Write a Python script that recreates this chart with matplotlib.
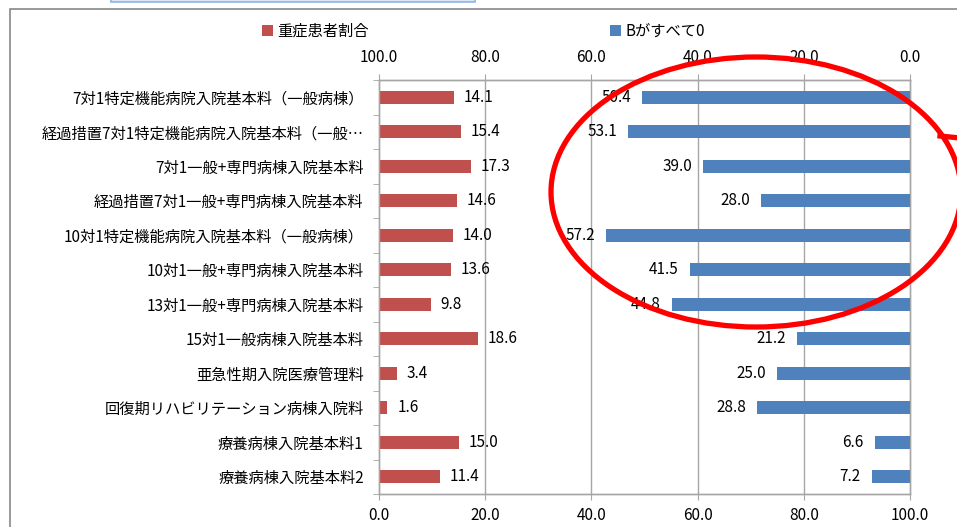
import numpy as np
import matplotlib
matplotlib.use("Agg")
import matplotlib.pyplot as plt
from matplotlib.patches import Rectangle, Ellipse
from matplotlib.lines import Line2D

plt.rcParams['font.family'] = ['Noto Sans CJK JP', 'DejaVu Sans']

categories = [
    "7対1特定機能病院入院基本料（一般病棟）",
    "経過措置7対1特定機能病院入院基本料（一般…",
    "7対1一般+専門病棟入院基本料",
    "経過措置7対1一般+専門病棟入院基本料",
    "10対1特定機能病院入院基本料（一般病棟）",
    "10対1一般+専門病棟入院基本料",
    "13対1一般+専門病棟入院基本料",
    "15対1一般病棟入院基本料",
    "亜急性期入院医療管理料",
    "回復期リハビリテーション病棟入院料",
    "療養病棟入院基本料1",
    "療養病棟入院基本料2",
]
severe = [14.1, 15.4, 17.3, 14.6, 14.0, 13.6, 9.8, 18.6, 3.4, 1.6, 15.0, 11.4]
b_zero = [50.4, 53.1, 39.0, 28.0, 57.2, 41.5, 44.8, 21.2, 25.0, 28.8, 6.6, 7.2]
series_names = ["重症患者割合", "Bがすべて0"]

red = "#C0504D"
blue = "#4F81BD"
grey = "#A6A6A6"
fs = 11

W, H = 957, 527
fig = plt.figure(figsize=(W / 100, H / 100), dpi=100)
ax = fig.add_axes([379 / W, 1 - 494 / H, (910 - 379) / W, (494 - 80) / H])
ax2 = ax.twiny()

y = np.arange(len(categories))
h = 0.39
b1 = ax.barh(y, severe, height=h, color=red, zorder=3, label=series_names[0])
b2 = ax2.barh(y, b_zero, height=h, color=blue, zorder=3, label=series_names[1])

ax.set_xlim(0, 100)
ax2.set_xlim(100, 0)
ax.set_ylim(len(categories) - 0.5, -0.5)

ticks = [0, 20, 40, 60, 80, 100]
ax.set_xticks(ticks)
ax.set_xticklabels(["%.1f" % t for t in ticks], fontsize=fs)
ax2.set_xticks(ticks)
ax2.set_xticklabels(["%.1f" % t for t in ticks], fontsize=fs)
ax.tick_params(axis='x', length=4, color=grey, pad=5)
ax2.tick_params(axis='x', length=4, color=grey, pad=6)

ax.set_yticks(y)
ax.set_yticklabels(categories, fontsize=fs)
ax.set_yticks(np.arange(-0.5, len(categories), 1), minor=True)
ax.tick_params(axis='y', which='major', length=0, pad=11)
ax.tick_params(axis='y', which='minor', length=4, color=grey)

for x in [20, 40, 60, 80]:
    ax.axvline(x, color=grey, lw=1, zorder=1)
for a in (ax, ax2):
    for s in a.spines.values():
        s.set_color(grey)
        s.set_linewidth(1)

for i, v in enumerate(severe):
    ax.annotate("%.1f" % v, (v, i), xytext=(7, 0), textcoords="offset points",
                ha="left", va="center", fontsize=fs, zorder=5)
for i, v in enumerate(b_zero):
    ax2.annotate("%.1f" % v, (v, i), xytext=(-8, 0), textcoords="offset points",
                 ha="right", va="center", fontsize=fs, zorder=5)

fig.legend(handles=[b1, b2], labels=series_names, ncol=2, loc="center left",
           bbox_to_anchor=(262 / W, 1 - 31 / H), frameon=False, fontsize=fs,
           borderpad=0, borderaxespad=0, handlelength=0.7, handleheight=0.7,
           handletextpad=0.3, columnspacing=15.8)

# outer chart frame and the box above it
fig.patches.append(Rectangle((10 / W, -0.1), 1.2, 1 - 9 / H + 0.1, transform=fig.transFigure,
                             fill=False, edgecolor="#878787", lw=1.2, zorder=0))
fig.patches.append(Rectangle((111 / W, 1 - 2 / H), (475 - 111) / W, 0.05, transform=fig.transFigure,
                             facecolor="#DCE6F2", edgecolor="#8EB4E3", lw=1.2, zorder=0))

# red ellipse annotation
fig.patches.append(Ellipse((756 / W, 1 - 192 / H), 410 / W, 270 / H, transform=fig.transFigure,
                           fill=False, edgecolor="#FF0000", lw=3.8, zorder=10))
fig.lines.append(Line2D([940 / W, 960 / W], [1 - 136 / H, 1 - 138 / H], transform=fig.transFigure,
                        color="#FF0000", lw=3.8, zorder=10))

fig.savefig("out.png", dpi=100)
